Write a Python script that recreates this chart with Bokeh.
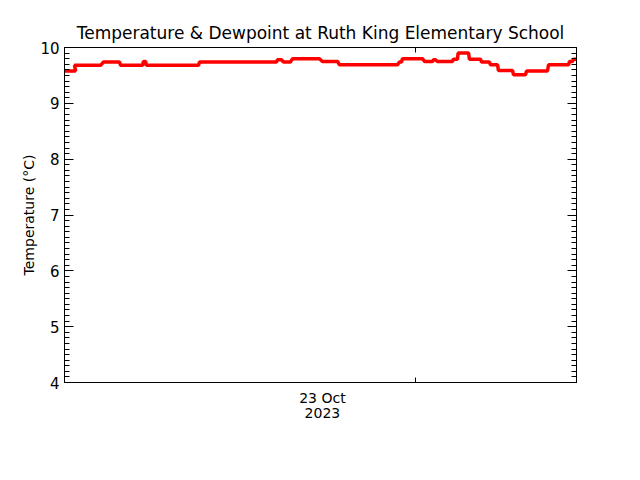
from bokeh.plotting import figure
from bokeh.models import ColumnDataSource, FixedTicker, LinearAxis, Range1d, SingleIntervalTicker
from bokeh.embed import file_html
from bokeh.resources import INLINE

# hours since start of the plotted window, and temperature in degC
hours = [0.00, 0.52, 0.47, 1.69, 1.83, 2.58, 2.63, 3.66, 3.70, 3.80, 3.84, 6.28,
         6.33, 9.94, 9.98, 10.17, 10.27, 10.59, 10.69, 11.95, 12.09, 12.80, 12.89, 15.61,
         15.70, 15.80, 15.84, 16.78, 16.88, 17.25, 17.30, 17.39, 17.48, 18.19, 18.23, 18.42,
         18.45, 18.94, 18.98, 19.50, 19.55, 19.92, 19.97, 20.30, 20.34, 21.00, 21.05, 21.61,
         21.66, 22.64, 22.69, 23.63, 23.67, 23.81, 23.86, 24.00]
temps = [9.58, 9.58, 9.68, 9.68, 9.74, 9.74, 9.68, 9.68, 9.75, 9.75, 9.68, 9.68,
         9.74, 9.74, 9.78, 9.78, 9.74, 9.74, 9.80, 9.80, 9.75, 9.75, 9.69, 9.69,
         9.74, 9.74, 9.80, 9.80, 9.75, 9.75, 9.78, 9.78, 9.75, 9.75, 9.79, 9.79,
         9.90, 9.90, 9.79, 9.79, 9.74, 9.74, 9.69, 9.69, 9.59, 9.59, 9.51, 9.51,
         9.58, 9.58, 9.69, 9.69, 9.75, 9.75, 9.79, 9.79]

date_label_hour = 12.09
midnight_hour = 16.45
date_label = "23 Oct\n2023"

FONT = "DejaVu Sans"

p = figure(width=624, height=464, x_range=Range1d(0, 24), y_range=Range1d(4, 10),
           x_axis_type=None, y_axis_type=None,
           title="Temperature & Dewpoint at Ruth King Elementary School",
           output_backend="svg", toolbar_location=None,
           min_border_left=64, min_border_right=48, min_border_top=47, min_border_bottom=82)
p.title.align = "center"
p.title.text_font = FONT
p.title.text_font_style = "normal"
p.title.text_font_size = "17px"
p.title.text_color = "black"
p.outline_line_color = "black"
p.background_fill_color = "white"
p.border_fill_color = "white"

source = ColumnDataSource(dict(hours=hours, temps=temps))
p.line("hours", "temps", source=source, line_color="#ff0000", line_width=3.5)

# y axes, ticks pointing inwards
for side in ("left", "right"):
    ax = LinearAxis(ticker=SingleIntervalTicker(interval=1, num_minor_ticks=10))
    ax.major_tick_in = 9
    ax.major_tick_out = 0
    ax.minor_tick_in = 5
    ax.minor_tick_out = 0
    ax.major_label_text_font = FONT
    ax.major_label_text_font_size = "15px"
    ax.major_label_text_color = "black"
    ax.major_label_standoff = 5
    if side == "left":
        ax.axis_label = "Temperature (°C)"
        ax.axis_label_text_font = FONT
        ax.axis_label_text_font_size = "14px"
        ax.axis_label_text_font_style = "normal"
        ax.axis_label_text_color = "black"
        ax.axis_label_standoff = 0
    else:
        ax.major_label_text_color = None
    p.add_layout(ax, side)

# x axes: one tick at midnight, date text centred on the day
xb = LinearAxis(ticker=FixedTicker(ticks=[date_label_hour], minor_ticks=[midnight_hour]),
                major_label_overrides={date_label_hour: date_label})
xb.major_tick_line_color = None
xb.major_tick_out = 0
xb.major_tick_in = 0
xb.minor_tick_in = 5
xb.minor_tick_out = 0
xb.major_label_text_font = FONT
xb.major_label_text_font_size = "14px"
xb.major_label_text_color = "black"
xb.major_label_text_line_height = 0.95
xb.major_label_standoff = 7
p.add_layout(xb, "below")

xt = LinearAxis(ticker=FixedTicker(ticks=[], minor_ticks=[midnight_hour]))
xt.major_tick_line_color = None
xt.minor_tick_in = 5
xt.minor_tick_out = 0
xt.major_label_text_color = None
p.add_layout(xt, "above")

open("out.html", "w").write(file_html(p, INLINE))
